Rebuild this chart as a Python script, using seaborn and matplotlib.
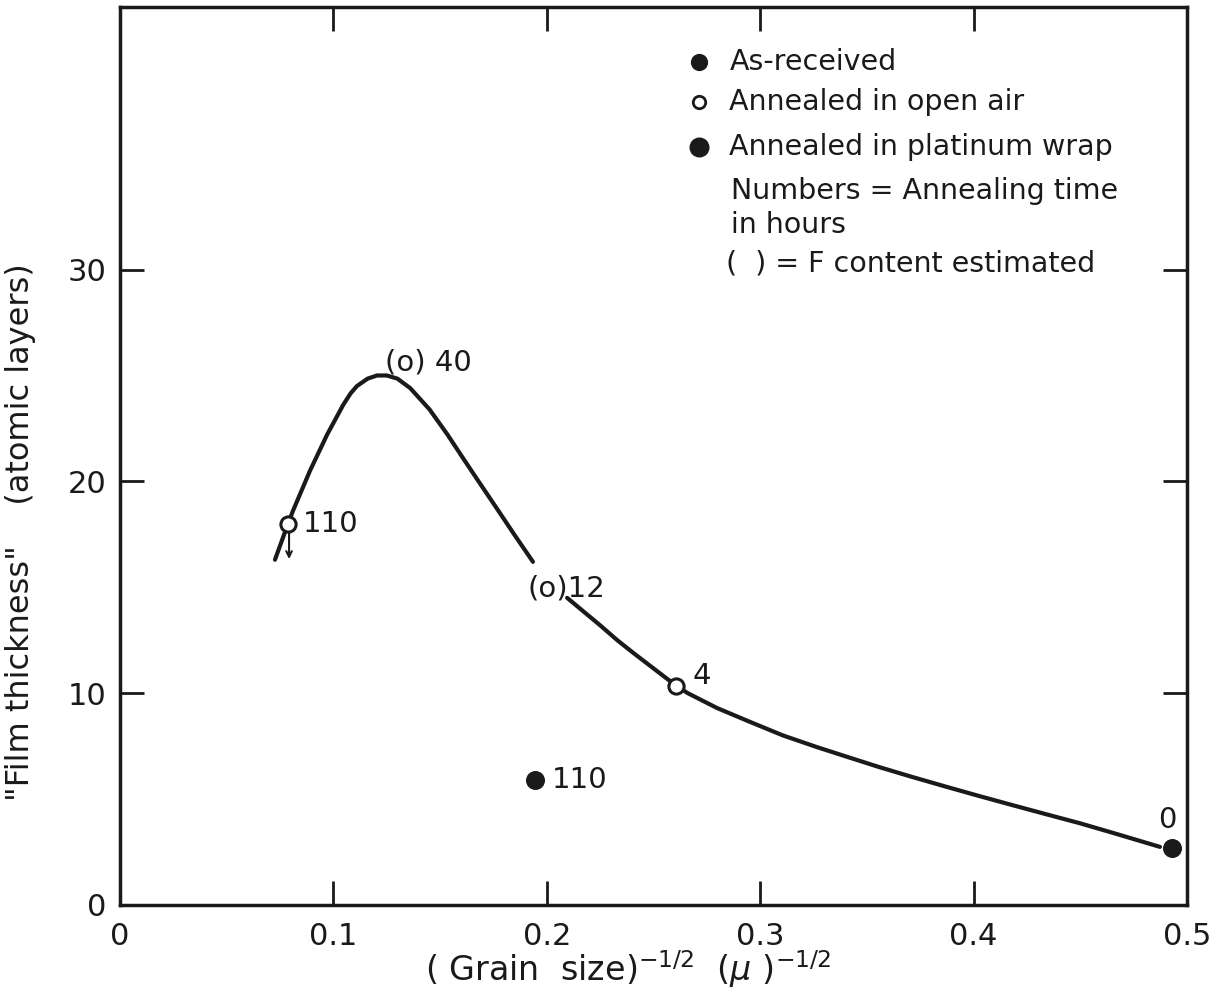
import matplotlib
matplotlib.use('Agg')
import matplotlib.pyplot as plt
import seaborn as sns
import pandas as pd
import numpy as np

# Hand-drawn trend curve (two pieces, broken at the "(o)12" label)
curve1_x = [0.0726, 0.0787, 0.081, 0.089, 0.097, 0.1045, 0.108, 0.111, 0.116, 0.1204,
            0.125, 0.130, 0.136, 0.145, 0.1535, 0.1607, 0.167, 0.1767, 0.185, 0.1935]
curve1_y = [16.3, 18.0, 18.6, 20.5, 22.2, 23.6, 24.15, 24.5, 24.85, 25.0,
            25.0, 24.85, 24.4, 23.4, 22.2, 21.1, 20.15, 18.7, 17.45, 16.2]
curve2_x = [0.2095, 0.225, 0.233, 0.2405, 0.2554, 0.2605, 0.266, 0.2797, 0.295,
            0.3107, 0.3266, 0.342, 0.356, 0.3716, 0.3875, 0.403, 0.4186, 0.4344,
            0.450, 0.4653, 0.4873]
curve2_y = [14.5, 13.2, 12.5, 11.9, 10.75, 10.36, 10.0, 9.3, 8.65,
            8.0, 7.45, 6.95, 6.5, 6.03, 5.57, 5.13, 4.7, 4.27,
            3.85, 3.4, 2.74]

# Measured points
open_air_x = [0.0787, 0.2605]
open_air_y = [18.0, 10.36]
open_air_hours = ['110', '4']

platinum_x = [0.1945]
platinum_y = [5.9]
platinum_hours = ['110']

received_x = [0.493]
received_y = [2.69]
received_hours = ['0']

# points with estimated F content (drawn as "(o)" text in the original)
estimated_x = [0.124, 0.191]
estimated_y = [25.6, 14.95]
estimated_text = ['(o) 40', '(o)12']

sns.set_style('white')
plt.rcParams['font.family'] = ['DejaVu Sans']

fig = plt.figure(figsize=(12.15, 10.01), dpi=100)
ax = fig.add_axes([0.0988, 0.096, 0.8782, 0.897])

ink = '#1a1a1a'
sns.lineplot(x=curve1_x, y=curve1_y, ax=ax, color=ink, lw=3, sort=False, estimator=None)
sns.lineplot(x=curve2_x, y=curve2_y, ax=ax, color=ink, lw=3, sort=False, estimator=None)

sns.scatterplot(x=open_air_x, y=open_air_y, ax=ax, s=120, marker='o',
                facecolor='white', edgecolor=ink, linewidth=2.2, zorder=5)
sns.scatterplot(x=platinum_x, y=platinum_y, ax=ax, s=160, marker='o',
                color=ink, edgecolor=ink, zorder=5)
sns.scatterplot(x=received_x, y=received_y, ax=ax, s=160, marker='o',
                color=ink, edgecolor=ink, zorder=5)

lbl = dict(fontsize=21, color=ink, va='center')
ax.text(0.0858, 18.0, open_air_hours[0], ha='left', **lbl)
ax.text(0.2685, 10.8, open_air_hours[1], ha='left', **lbl)
ax.text(0.2024, 5.9, platinum_hours[0], ha='left', **lbl)
ax.text(0.4906, 4.0, received_hours[0], ha='center', **lbl)
for x, y, t in zip(estimated_x, estimated_y, estimated_text):
    ax.text(x, y, t, ha='left', **lbl)

# upper-limit arrow on the 110 h open-air point
ax.annotate('', xy=(0.0792, 16.2), xytext=(0.0792, 17.7),
            arrowprops=dict(arrowstyle='->', color=ink, lw=1.5))

# key drawn inside the plot
ax.scatter([0.2712], [39.8], s=130, color=ink, zorder=5)
ax.scatter([0.2712], [37.9], s=80, facecolor='white', edgecolor=ink, lw=2, zorder=5)
ax.scatter([0.2712], [35.8], s=180, color=ink, zorder=5)
key = dict(fontsize=20.5, color=ink, va='center', ha='left')
ax.text(0.2855, 39.8, 'As-received', **key)
ax.text(0.2855, 37.9, 'Annealed in open air', **key)
ax.text(0.2855, 35.8, 'Annealed in platinum wrap', **key)
ax.text(0.2865, 33.7, 'Numbers = Annealing time', **key)
ax.text(0.2865, 32.1, 'in hours', **key)
ax.text(0.2840, 30.3, '(  ) = F content estimated', **key)

ax.set_xlim(0, 0.5)
ax.set_ylim(0, 42.4)
ax.set_xticks([0, 0.1, 0.2, 0.3, 0.4, 0.5])
ax.set_xticklabels(['0', '0.1', '0.2', '0.3', '0.4', '0.5'])
ax.set_yticks([0, 10, 20, 30])
ax.tick_params(direction='in', length=17, width=2, labelsize=22, color=ink,
               labelcolor=ink, top=True, right=True, bottom=True, left=True)
ax.tick_params(axis='x', pad=12)
ax.tick_params(axis='y', pad=10)
for s in ax.spines.values():
    s.set_linewidth(2.5)
    s.set_color(ink)

ax.set_xlabel(r'( Grain  size)$^{-1/2}$  ($\mu$ )$^{-1/2}$', fontsize=24, color=ink)
ax.set_ylabel('"Film thickness"    (atomic layers)', fontsize=23, color=ink)
ax.xaxis.set_label_coords(0.476, -0.048)
ax.yaxis.set_label_coords(-0.079, 0.415)

plt.savefig('out.png', dpi=100)
